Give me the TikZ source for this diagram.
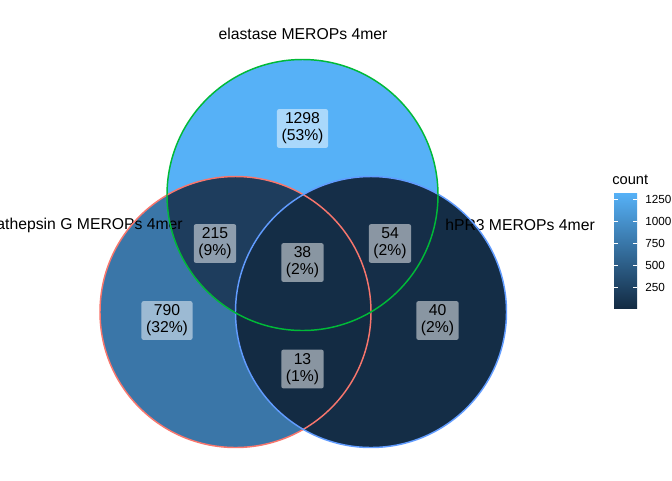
\documentclass[tikz,border=0pt]{standalone}
\usepackage{fontspec}
\setmainfont{Liberation Sans}
\usetikzlibrary{calc}

\definecolor{elasOnly}{HTML}{56B1F7}
\definecolor{cathOnly}{HTML}{3A76A8}
\definecolor{hprOnly}{HTML}{142D46}
\definecolor{cathElas}{HTML}{1E3D5D}
\definecolor{elasHpr}{HTML}{152E48}
\definecolor{cathHpr}{HTML}{132B43}
\definecolor{allThree}{HTML}{142D46}
\definecolor{lineRed}{HTML}{F8766D}
\definecolor{lineGreen}{HTML}{00BA38}
\definecolor{lineBlue}{HTML}{619CFF}
\definecolor{barLow}{HTML}{132B43}
\definecolor{barHigh}{HTML}{56B1F7}

\begin{document}
\begin{tikzpicture}[x=0.75pt, y=-0.75pt,
    setname/.style={inner sep=0pt, font=\fontsize{11.8}{13}\selectfont},
    countbox/.style={fill=white, fill opacity=0.5, text opacity=1, rounded corners=1.5pt,
      align=center, inner xsep=3.4pt, inner ysep=2.8pt, font=\fontsize{11.8}{12.75}\selectfont},
    ticklabel/.style={anchor=west, inner sep=0pt, font=\fontsize{8.8}{10}\selectfont},
    tickmark/.style={white, line width=0.7pt},
    outline/.style={line width=1.1pt}
    ]
  \useasboundingbox (0,0) rectangle (672,480);
  \fill[white] (0,0) rectangle (672,480);
  % centres
  \coordinate (Elas) at (302.5,195);
  \coordinate (Cath) at (235.5,312);
  \coordinate (Hpr) at (371,312);
  % regions
  \fill[elasOnly] (Elas) circle (135.5);
  \fill[cathOnly] (Cath) circle (135.5);
  \fill[hprOnly] (Hpr) circle (135.5);
  \begin{scope}
    \clip (Cath) circle (135.5);
    \fill[cathElas] (Elas) circle (135.5);
    \fill[cathHpr] (Hpr) circle (135.5);
  \end{scope}
  \begin{scope}
    \clip (Elas) circle (135.5);
    \fill[elasHpr] (Hpr) circle (135.5);
    \clip (Cath) circle (135.5);
    \fill[allThree] (Hpr) circle (135.5);
  \end{scope}
  % set names
  \node[setname] (Elastase) at (303,34) {elastase MEROPs 4mer};
  \node[setname, anchor=east] (Cathepsin) at (183,225) {cathepsin G MEROPs 4mer};
  \node[setname, anchor=west] (Proteinase) at (445,225) {hPR3 MEROPs 4mer};
  % outlines
  \draw[outline, lineRed] (Cath) circle (135.5);
  \draw[outline, lineBlue] (Hpr) circle (135.5);
  \draw[outline, lineGreen] (Elas) circle (135.5);
  % counts
  \node[countbox] (E) at (302.5,128.5) {1298\\(53\%)};
  \node[countbox] (CE) at (215,243.5) {215\\(9\%)};
  \node[countbox] (CEH) at (302.5,262.5) {38\\(2\%)};
  \node[countbox] (EH) at (390,243.5) {54\\(2\%)};
  \node[countbox] (C) at (167,320.5) {790\\(32\%)};
  \node[countbox] (H) at (437.5,320.5) {40\\(2\%)};
  \node[countbox] (CH) at (302.5,369) {13\\(1\%)};
  % legend
  \node[anchor=west, inner sep=0pt, font=\fontsize{11}{12}\selectfont] (Count) at (612,180) {count};
  \shade[bottom color=barLow, top color=barHigh] (614,193) rectangle (637,308);
  \foreach \v/\y in {1250/199, 1000/221, 750/243, 500/265, 250/287}{
    \draw[tickmark] (614,\y) -- (618,\y);
    \draw[tickmark] (633,\y) -- (637,\y);
    \node[ticklabel] (tick\v) at (645,\y) {\v};
  }
\end{tikzpicture}
\end{document}
